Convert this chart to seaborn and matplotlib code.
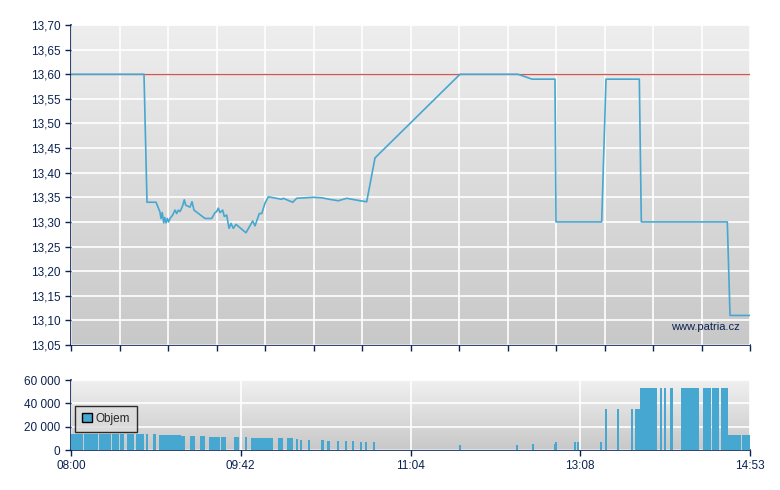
import numpy as np
import pandas as pd
import matplotlib
matplotlib.use("Agg")
import matplotlib.pyplot as plt
from matplotlib.patches import Patch
import seaborn as sns

# Price trace (x = position on the session axis, 0..14 grid units)
price_x = [0, 1.505, 1.567, 1.753, 1.835, 1.856, 1.882, 1.911, 1.932, 1.959, 1.986, 2.014,
           2.041, 2.097, 2.144, 2.179, 2.212, 2.247, 2.295, 2.336, 2.365, 2.454, 2.495,
           2.536, 2.763, 2.901, 2.969, 3.004, 3.037, 3.072, 3.128, 3.161, 3.210, 3.258,
           3.299, 3.346, 3.402, 3.608, 3.746, 3.794, 3.882, 3.932, 4.000, 4.068, 4.344,
           4.377, 4.571, 4.654, 4.996, 5.169, 5.326, 5.511, 5.684, 5.959, 6.097, 6.268,
           8.021, 9.216, 9.505, 9.979, 10.0, 10.942, 11.031, 11.718, 11.759, 13.532,
           13.588, 14.0]
price_y = [13.60, 13.60, 13.34, 13.34, 13.32, 13.307, 13.319, 13.298, 13.309, 13.298, 13.307,
           13.30, 13.307, 13.314, 13.324, 13.317, 13.324, 13.321, 13.331, 13.345, 13.334,
           13.330, 13.341, 13.324, 13.307, 13.307, 13.319, 13.321, 13.328, 13.319, 13.324,
           13.311, 13.314, 13.287, 13.297, 13.287, 13.295, 13.278, 13.302, 13.292, 13.317,
           13.317, 13.338, 13.351, 13.346, 13.348, 13.340, 13.348, 13.35, 13.349, 13.346,
           13.343, 13.348, 13.343, 13.341, 13.43, 13.60, 13.60, 13.59, 13.59, 13.30, 13.30,
           13.59, 13.59, 13.30, 13.30, 13.11, 13.11]
prev_close = 13.60

# Volume intervals (start, end on the same axis) and traded volume
vol_start = [0, 0.268, 0.577, 0.839, 1.004, 1.161, 1.347, 1.540, 1.691, 1.814, 2.275, 2.454,
             2.660, 2.845, 3.100, 3.354, 3.581, 3.711, 4.076, 4.268, 4.454, 4.633, 4.722,
             4.880, 5.148, 5.278, 5.485, 5.643, 5.787, 5.952, 6.062, 6.220, 8.0, 9.175,
             9.505, 9.959, 9.985, 10.371, 10.433, 10.907, 11.010, 11.251, 11.540, 11.629,
             11.732, 12.144, 12.227, 12.351, 12.577, 13.031, 13.216, 13.402, 13.546, 13.835]
vol_end = [0.247, 0.557, 0.818, 0.983, 1.093, 1.292, 1.505, 1.588, 1.746, 2.275, 2.357, 2.557,
           2.756, 3.065, 3.203, 3.464, 3.629, 4.076, 4.158, 4.371, 4.577, 4.680, 4.763,
           4.928, 5.216, 5.340, 5.526, 5.691, 5.835, 6.0, 6.110, 6.268, 8.041, 9.223,
           9.546, 9.985, 10.021, 10.412, 10.474, 10.948, 11.052, 11.299, 11.588, 11.732,
           12.082, 12.186, 12.268, 12.412, 12.948, 13.196, 13.361, 13.546, 13.814, 14.0]
vol_value = [13700, 13700, 13700, 13700, 13700, 13700, 13700, 13700, 13300, 12900, 12000,
             12000, 12000, 11500, 11400, 11400, 10900, 10600, 10000, 10000, 10000, 9400,
             8600, 8600, 8600, 7700, 7700, 7700, 7700, 6900, 6900, 6900, 4300, 4300, 5150,
             5150, 6900, 6900, 6900, 6900, 35500, 35500, 35500, 35500, 53200, 53200, 53200,
             53200, 53200, 53200, 53200, 53200, 12900, 12900]

price_yticks = [13.05, 13.10, 13.15, 13.20, 13.25, 13.30, 13.35, 13.40, 13.45, 13.50,
                13.55, 13.60, 13.65, 13.70]
vol_yticks = [0, 20000, 40000, 60000]
vol_ylabels = ["0", "20 000", "40 000", "60 000"]
time_ticks = [0, 3.5, 7, 10.5, 14]
time_labels = ["08:00", "09:42", "11:04", "13:08", "14:53"]

navy = "#0c2252"
blue = "#46a7d0"

sns.set_theme(style="white")
plt.rcParams["font.family"] = ["Liberation Sans", "DejaVu Sans"]

fig = plt.figure(figsize=(7.8, 4.9), dpi=100)
ax = fig.add_axes([71 / 780, 1 - 345 / 490, 679 / 780, 320 / 490])
axv = fig.add_axes([71 / 780, 1 - 450 / 490, 679 / 780, 70 / 490])


def gradient_bg(a, top, bottom):
    grad = np.linspace(0, 1, 256).reshape(-1, 1)
    cmap = matplotlib.colors.LinearSegmentedColormap.from_list("bg", [top, bottom])
    a.imshow(grad, aspect="auto", cmap=cmap, extent=[0, 1, 0, 1],
             transform=a.transAxes, zorder=0)


def style_axes(a):
    for s in ["top", "right"]:
        a.spines[s].set_visible(False)
    for s in ["left", "bottom"]:
        a.spines[s].set_color(navy)
        a.spines[s].set_linewidth(1.2)
    a.tick_params(axis="both", colors=navy, labelcolor=navy, labelsize=8.5,
                  direction="out", length=4, width=1, left=True, bottom=True)
    a.grid(True, color="white", linewidth=1.2)
    a.set_axisbelow(False)


# --- price panel ---
gradient_bg(ax, "#eeeeee", "#c8c8c8")
style_axes(ax)
ax.axhline(prev_close, color="#cc5a55", linewidth=1, zorder=3)
df = pd.DataFrame({"x": price_x, "price": price_y})
sns.lineplot(data=df, x="x", y="price", sort=False, estimator=None, ax=ax,
             color=blue, linewidth=1.2, zorder=4)
ax.set_xlim(0, 14)
ax.set_ylim(13.05, 13.70)
ax.set_yticks(price_yticks)
ax.set_yticklabels([f"{v:.2f}".replace(".", ",") for v in price_yticks])
ax.set_xticks(range(15))
ax.set_xticklabels([])
ax.set_xlabel("")
ax.set_ylabel("")
for gl in ax.get_xgridlines() + ax.get_ygridlines():
    gl.set_zorder(1)
ax.text(0.985, 0.055, "www.patria.cz", transform=ax.transAxes, ha="right",
        va="center", color=navy, fontsize=8, zorder=5)

# --- volume panel ---
gradient_bg(axv, "#f0f0f0", "#c8c8c8")
style_axes(axv)
widths = np.array(vol_end) - np.array(vol_start)
axv.bar(vol_start, vol_value, width=widths, align="edge", color=blue,
        linewidth=0, zorder=3)
axv.set_xlim(0, 14)
axv.set_ylim(0, 60000)
axv.set_yticks(vol_yticks)
axv.set_yticklabels(vol_ylabels)
axv.set_xticks(time_ticks)
axv.set_xticklabels(time_labels)
axv.set_xlabel("")
axv.set_ylabel("")
leg = axv.legend(handles=[Patch(facecolor=blue, edgecolor="black", linewidth=1, label="Objem")],
                 loc="lower left", bbox_to_anchor=(0.006, 0.257), borderaxespad=0,
                 frameon=True, fancybox=False, handlelength=0.8, handleheight=0.8,
                 handletextpad=0.3, borderpad=0.6, fontsize=8.5)
leg.get_frame().set_edgecolor("black")
leg.get_frame().set_linewidth(1)
leg.get_frame().set_facecolor("#dcdcdc")
leg.set_zorder(6)

fig.savefig("out.png", dpi=100, facecolor="white")
